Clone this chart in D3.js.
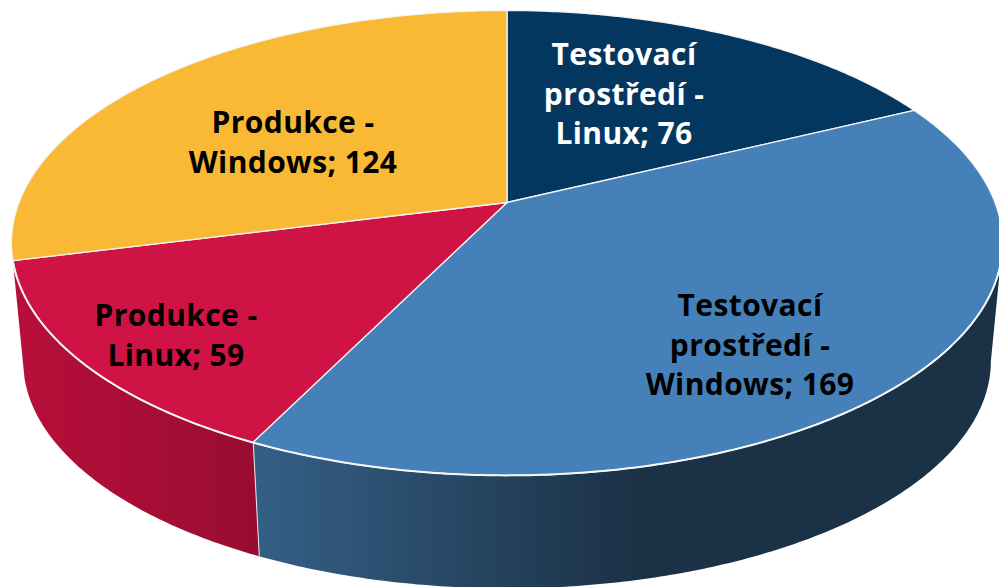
<!DOCTYPE html>
<html>
<head>
<meta charset="utf-8">
<script src="https://cdn.jsdelivr.net/npm/d3@7/dist/d3.min.js"></script>
<style>
html,body{margin:0;padding:0;background:#fff;overflow:hidden}
svg{display:block}
text{font-family:"Open Sans",sans-serif;font-weight:700;font-size:30px;letter-spacing:.4px;text-anchor:middle;fill:#000}
</style>
</head>
<body>
<svg id="c" width="999" height="587"></svg>
<script>
const categories = ["Testovací prostředí - Linux","Testovací prostředí - Windows","Produkce - Linux","Produkce - Windows"];
const values = [76,169,59,124];
const labelLines = [["Testovací","prostředí -","Linux; 76"],["Testovací","prostředí -","Windows; 169"],["Produkce -","Linux; 59"],["Produkce -","Windows; 124"]];
const topColors = ["#03375F","#4680B8","#CF1344","#F9B935"];
const wallStops = [null,["#345F85","#1B3146"],["#B60F3A","#980C30"],null];

// layout (not data)
const W=999,H=587,cx=507,persp=0.174;
const topPlane={A:488,B:225.4,y0:202.5}, botPlane={A:476.5,B:220.4,y0:321.5};
const labelAnchor=[[624,65],[750,316],[176,326],[293,133]];
const lineStep=39.5;

const svg=d3.select("#c");
const defs=svg.append("defs");
const pie=d3.pie().sort(null).value(d=>d).startAngle(0).endAngle(2*Math.PI);
const arcs=pie(values);

function project(plane,a,r=1){
  const u=r*Math.sin(a), v=r*Math.cos(a), w=1+persp*v;
  return [cx+plane.A*u/w, plane.y0-plane.B*v/w];
}
const line=d3.line();
const samples=(a0,a1)=>{const n=Math.max(2,Math.ceil(Math.abs(a1-a0)/0.01));return d3.range(n+1).map(i=>a0+(a1-a0)*i/n);};

// visible wall begins where the rim turns back at the right silhouette
const silhouette=Math.PI-Math.acos(persp);

arcs.forEach((d,i)=>{
  if(!wallStops[i])return;
  const id="wall"+i;
  const a0=Math.max(d.startAngle,silhouette),a1=d.endAngle;
  const g=defs.append("linearGradient").attr("id",id).attr("gradientUnits","userSpaceOnUse");
  const xA=project(botPlane,a1)[0];
  const xB=i===1?640:project(botPlane,a0)[0];
  g.attr("x1",xA).attr("x2",xB).attr("y1",0).attr("y2",0);
  g.append("stop").attr("offset",0).attr("stop-color",wallStops[i][0]);
  g.append("stop").attr("offset",1).attr("stop-color",wallStops[i][1]);
  const pts=samples(a0,a1).map(a=>project(topPlane,a)).concat(samples(a1,a0).map(a=>project(botPlane,a)));
  svg.append("path").attr("d",line(pts)+"Z").attr("fill",`url(#${id})`);
  if(i===1){
    svg.append("path").attr("d",line([project(topPlane,a1),project(botPlane,a1)]))
      .attr("stroke","#eeeeee").attr("stroke-width",2).attr("fill","none");
  }
});

arcs.forEach((d,i)=>{
  const pts=[project(topPlane,0,0)].concat(samples(d.startAngle,d.endAngle).map(a=>project(topPlane,a)));
  svg.append("path").attr("d",line(pts)+"Z").attr("fill",topColors[i])
    .attr("stroke","#f4f4f4").attr("stroke-width",1.3).attr("stroke-linejoin","round");
});

// bright rim along the front edge, from the right silhouette to the left one
svg.append("path")
  .attr("d",line(samples(silhouette,arcs[2].endAngle).map(a=>project(topPlane,a))))
  .attr("fill","none").attr("stroke","#f6f6f6").attr("stroke-width",2);

arcs.forEach((d,i)=>{
  const t=svg.append("text").style("fill",i===0?"#fff":"#000");
  labelLines[i].forEach((s,j)=>{
    t.append("tspan").attr("x",labelAnchor[i][0]).attr("y",labelAnchor[i][1]+j*lineStep).text(s);
  });
});
</script>
</body>
</html>
